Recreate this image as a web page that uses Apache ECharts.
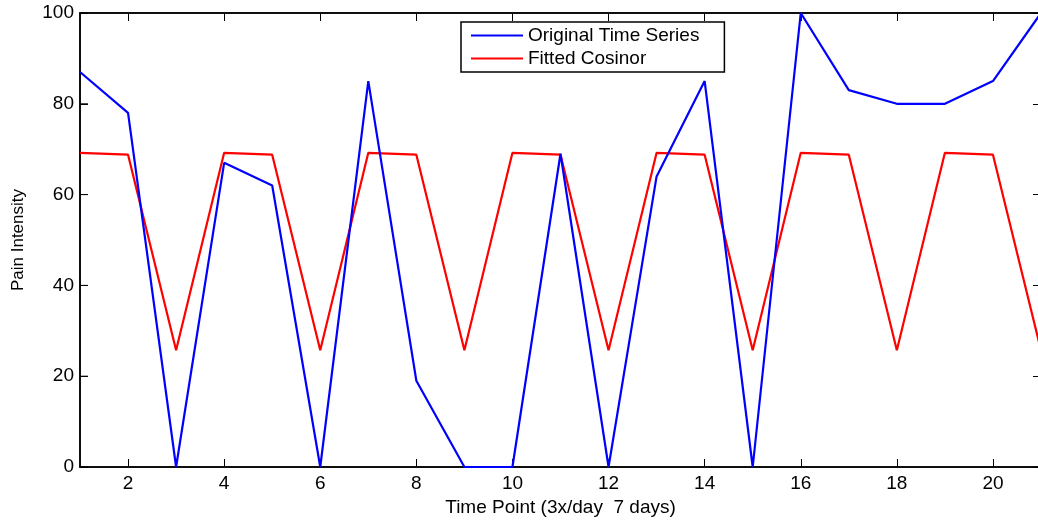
<!DOCTYPE html>
<html>
<head>
<meta charset="utf-8">
<script src="https://cdn.jsdelivr.net/npm/echarts@6/dist/echarts.min.js"></script>
<style>
  html, body { margin: 0; padding: 0; background: #fff; }
  #chart { width: 1038px; height: 520px; }
</style>
</head>
<body>
<div id="chart"></div>
<script>
// Time points: 3 measurements per day over 7 days
const timePoints = [1, 2, 3, 4, 5, 6, 7, 8, 9, 10, 11, 12, 13, 14, 15, 16, 17, 18, 19, 20, 21];
// Observed pain ratings
const originalSeries = [87, 78, 0, 67, 62, 0, 85, 19, 0, 0, 69, 0, 64, 85, 0, 100, 83, 80, 80, 85, 100];
// Cosinor model fit (period of 3 time points)
const fittedCosinor = [69.2, 68.8, 25.7, 69.2, 68.8, 25.7, 69.2, 68.8, 25.7, 69.2, 68.8, 25.7,
                       69.2, 68.8, 25.7, 69.2, 68.8, 25.7, 69.2, 68.8, 25.7];
// Labelled positions on the axes
const xTicks = [2, 4, 6, 8, 10, 12, 14, 16, 18, 20];
const yTicks = [0, 20, 40, 60, 80, 100];
const seriesNames = ['Original Time Series', 'Fitted Cosinor'];
const xTitle = 'Time Point (3x/day  7 days)';
const yTitle = 'Pain Intensity';

const font = 'Liberation Sans, Arial, Helvetica, sans-serif';
const chart = echarts.init(document.getElementById('chart'));

// fresh style objects for each axis (option objects get merged in place)
function ticks(extra) {
  return Object.assign({ show: true, inside: true, length: 8, lineStyle: { color: '#000', width: 1 } }, extra || {});
}
function line() {
  return { show: true, onZero: false, lineStyle: { color: '#000', width: 1.5 } };
}

chart.setOption({
  animation: false,
  backgroundColor: '#fff',
  grid: {
    left: 80, top: 13, width: 961, height: 454,
    outerBoundsMode: 'none',
    containLabel: false,
    show: true, borderColor: '#000', borderWidth: 1.5, backgroundColor: 'transparent'
  },
  legend: {
    left: 461, top: 22,
    orient: 'vertical',
    backgroundColor: '#fff',
    borderColor: '#000', borderWidth: 1.5, borderRadius: 0,
    padding: [4, 25, 4, 10],
    itemGap: 4,
    itemWidth: 52, itemHeight: 18,
    textStyle: { fontFamily: font, fontSize: 19, color: '#000' },
    data: seriesNames.map(n => ({ name: n, icon: 'path://M0,0 L52,0 L52,2 L0,2 Z' }))
  },
  xAxis: [{
    type: 'value', gridIndex: 0, min: 1, max: 21, interval: 1,
    position: 'bottom',
    name: xTitle, nameLocation: 'middle', nameGap: 26,
    nameTextStyle: { fontFamily: font, fontSize: 19, color: '#000' },
    axisLine: line(),
    axisTick: ticks({ customValues: xTicks }),
    axisLabel: { fontFamily: font, fontSize: 19, color: '#000', margin: 7, customValues: xTicks },
    splitLine: { show: false }
  }, {
    type: 'value', gridIndex: 0, min: 1, max: 21, interval: 1,
    position: 'top',
    axisLine: line(),
    axisTick: ticks({ customValues: xTicks }),
    axisLabel: { show: false },
    splitLine: { show: false }
  }],
  yAxis: [{
    type: 'value', gridIndex: 0, min: 0, max: 100, interval: 20,
    position: 'left',
    name: yTitle, nameLocation: 'middle', nameGap: 53,
    nameTextStyle: { fontFamily: font, fontSize: 17, color: '#000' },
    axisLine: line(),
    axisTick: ticks(),
    axisLabel: { fontFamily: font, fontSize: 19, color: '#000', margin: 6 },
    splitLine: { show: false }
  }, {
    type: 'value', gridIndex: 0, min: 0, max: 100, interval: 20,
    position: 'right',
    axisLine: line(),
    axisTick: ticks(),
    axisLabel: { show: false },
    splitLine: { show: false }
  }],
  series: [{
    name: seriesNames[0], type: 'line',
    xAxisIndex: 0, yAxisIndex: 0,
    data: timePoints.map((t, i) => [t, originalSeries[i]]),
    symbol: 'none', color: '#0000ff',
    lineStyle: { color: '#0000ff', width: 2.2 },
    z: 3
  }, {
    name: seriesNames[1], type: 'line',
    xAxisIndex: 0, yAxisIndex: 0,
    data: timePoints.map((t, i) => [t, fittedCosinor[i]]),
    symbol: 'none', color: '#ff0000',
    lineStyle: { color: '#ff0000', width: 2.2 },
    z: 2
  }, {
    // inner tick marks along the left frame
    type: 'custom', name: 'yTicks', silent: true,
    xAxisIndex: 0, yAxisIndex: 0, clip: false, z: 5,
    data: yTicks.map(v => [1, v]),
    renderItem: function (params, api) {
      const p = api.coord([api.value(0), api.value(1)]);
      return {
        type: 'line',
        shape: { x1: p[0], y1: p[1], x2: p[0] + 8, y2: p[1] },
        style: { stroke: '#000', lineWidth: 1 }
      };
    }
  }]
});
</script>
</body>
</html>
